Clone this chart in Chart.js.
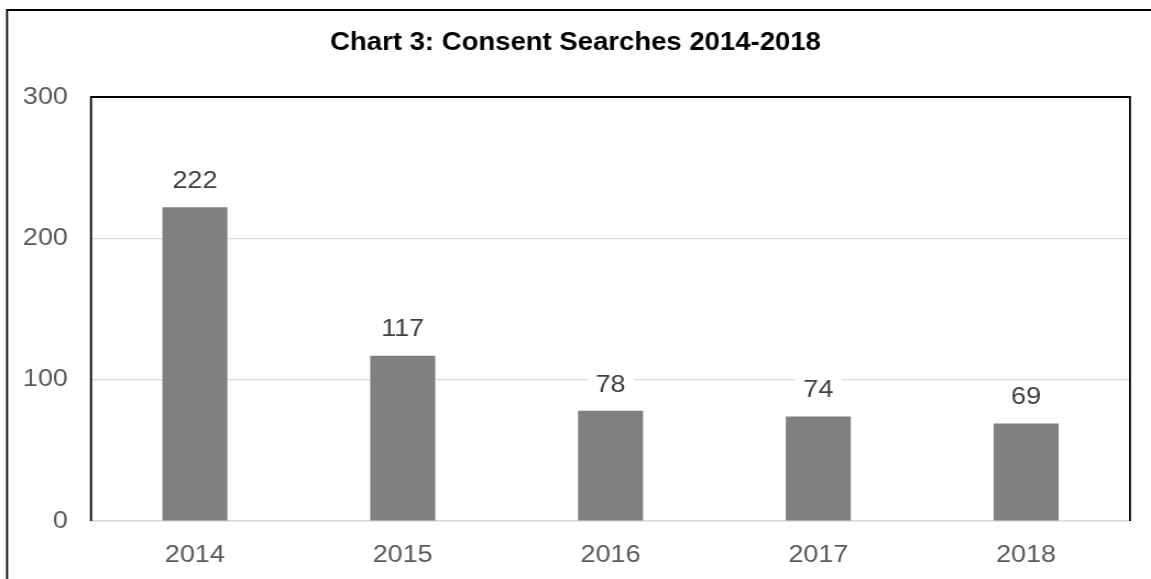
<!DOCTYPE html>
<html>
<head>
<meta charset="utf-8">
<script src="https://cdn.jsdelivr.net/npm/chart.js@4"></script>
<style>
  html, body { margin: 0; padding: 0; background: #fff; overflow: hidden; }
  /* the reference text is a little wide, so the canvas is stretched sideways */
  #chart { display: block; transform: scaleX(1.1004); transform-origin: 0 0; }
</style>
</head>
<body>
<canvas id="chart" width="1046" height="579"></canvas>
<script>
// Data
const chartTitle = 'Chart 3: Consent Searches 2014-2018';
const years = ['2014', '2015', '2016', '2017', '2018'];
const searches = [222, 117, 78, 74, 69];
const yTicks = [0, 100, 200, 300];

const FONT = '"Liberation Sans", Arial, sans-serif';

// Title, frames and value labels
const decorations = {
    id: 'decorations',
    afterDatasetsDraw(chart) {
        const ctx = chart.ctx;
        const meta = chart.getDatasetMeta(0);
        ctx.save();
        ctx.font = '24.5px ' + FONT;
        ctx.textAlign = 'center';
        ctx.textBaseline = 'middle';
        meta.data.forEach((bar, i) => {
            const text = String(searches[i]);
            const w = ctx.measureText(text).width + 15;
            const cy = bar.y - 27;
            ctx.fillStyle = '#ffffff';
            ctx.fillRect(bar.x - w / 2, cy - 14, w, 28);
            ctx.fillStyle = '#404040';
            ctx.fillText(text, bar.x, cy + 1);
        });
        ctx.restore();
    },
    afterDraw(chart) {
        const ctx = chart.ctx;
        const a = chart.chartArea;
        ctx.save();
        // outer frame
        ctx.strokeStyle = '#000';
        ctx.lineWidth = 1.8;
        ctx.beginPath();
        ctx.moveTo(6.4, chart.height + 5);
        ctx.lineTo(6.4, 10);
        ctx.lineTo(chart.width + 5, 10);
        ctx.stroke();
        // plot frame (left, top, right)
        ctx.beginPath();
        ctx.moveTo(a.left, a.bottom);
        ctx.lineTo(a.left, a.top);
        ctx.lineTo(a.right, a.top);
        ctx.lineTo(a.right, a.bottom);
        ctx.stroke();
        // title
        ctx.fillStyle = '#000';
        ctx.font = 'bold 25px ' + FONT;
        ctx.textAlign = 'center';
        ctx.textBaseline = 'middle';
        ctx.fillText(chartTitle, chart.width / 2, 43);
        ctx.restore();
    }
};

new Chart(document.getElementById('chart'), {
    type: 'bar',
    data: {
        labels: years,
        datasets: [{
            data: searches,
            backgroundColor: '#808080',
            categoryPercentage: 1,
            barPercentage: 0.313
        }]
    },
    options: {
        responsive: false,
        animation: false,
        layout: { padding: { top: 97, right: 19.1, left: 0, bottom: 0 } },
        plugins: {
            legend: { display: false },
            title: { display: false },
            tooltip: { enabled: false }
        },
        scales: {
            x: {
                grid: { display: false, drawTicks: false },
                border: { color: '#d9d9d9', width: 1.5 },
                ticks: { color: '#595959', font: { family: FONT, size: 24.5 }, padding: 20 },
                afterFit: (s) => { s.height = 58; }
            },
            y: {
                min: yTicks[0],
                max: yTicks[yTicks.length - 1],
                afterBuildTicks: (s) => { s.ticks = yTicks.map(v => ({ value: v })); },
                grid: { color: '#d9d9d9', lineWidth: 1.2, drawTicks: false },
                border: { display: false },
                ticks: { color: '#595959', font: { family: FONT, size: 24.5 }, padding: 21 },
                afterFit: (s) => { s.width = 82.7; }
            }
        }
    },
    plugins: [decorations]
});
</script>
</body>
</html>
